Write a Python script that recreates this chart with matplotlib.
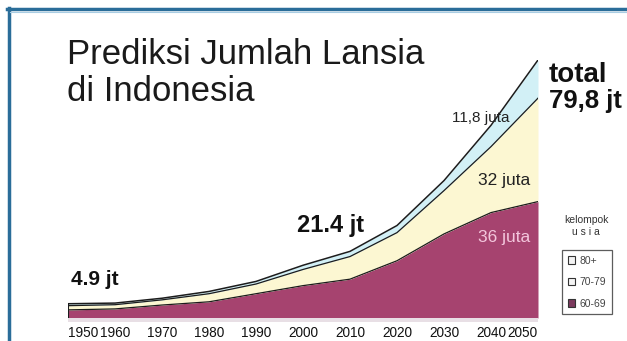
import matplotlib
matplotlib.use("Agg")
import matplotlib.pyplot as plt
import numpy as np
from matplotlib.patches import Patch
from matplotlib.lines import Line2D

years = [1950, 1960, 1970, 1980, 1990, 2000, 2010, 2020, 2030, 2040, 2050]
age_60_69 = [2.5, 2.8, 4.0, 5.0, 7.5, 10.0, 12.0, 17.7, 26.0, 32.6, 36.0]
age_70_79 = [1.3, 1.3, 1.6, 2.5, 3.0, 5.0, 7.0, 8.7, 13.4, 20.4, 32.0]
age_80p = [0.6, 0.5, 0.5, 0.7, 0.8, 1.3, 1.6, 2.2, 3.1, 6.6, 11.8]
tick_labels = [str(y) for y in years]
legend_labels = ["80+", "70-79", "60-69"]

C_PURPLE = "#a6436f"
C_YELLOW = "#fcf7d2"
C_BLUE = "#d2f0f6"
C_LINE = "#1c1c1c"
FONT = "Liberation Sans"

fig = plt.figure(figsize=(6.27, 3.41), dpi=100)
fig.patch.set_facecolor("white")
W, H = 627, 341

def fx(px):
    return px / W

def fy(py):
    return 1 - py / H

ax = fig.add_axes([fx(68), fy(322), fx(538) - fx(68), fy(60) - fy(322)])
x = np.array(years, dtype=float)
l1 = np.array(age_60_69)
l2 = l1 + np.array(age_70_79)
l3 = l2 + np.array(age_80p)

ax.fill_between(x, 0, l1, color=C_PURPLE, lw=0)
ax.fill_between(x, l1, l2, color=C_YELLOW, lw=0)
ax.fill_between(x, l2, l3, color=C_BLUE, lw=0)
ax.plot(x, l1, color=C_LINE, lw=0.9)
ax.plot(x, l2, color=C_LINE, lw=0.9)
ax.plot(x, l3, color=C_LINE, lw=1.1)
ax.vlines(x[0], 0, l3[0], color=C_LINE, lw=1.5)
ax.axhspan(-1.25, 0, color="#e8dfe5", lw=0)

ax.set_xlim(years[0], years[-1])
ax.set_ylim(-1.25, l3[-1])
ax.set_xticks(years)
ax.set_xticklabels(tick_labels, fontsize=9.8, family=FONT, color="#111111")
ax.tick_params(axis="x", length=0, pad=3)
tl = ax.get_xticklabels()
tl[0].set_ha("left")
tl[-1].set_ha("right")
ax.set_yticks([])
for s in ax.spines.values():
    s.set_visible(False)
ax.patch.set_alpha(0)

# annotations
fig.text(fx(71), fy(285), "4.9 jt", fontsize=15, fontweight="bold", family=FONT,
         color="#111111", ha="left", va="baseline")
fig.text(fx(297), fy(232), "21.4 jt", fontsize=17, fontweight="bold", family=FONT,
         color="#111111", ha="left", va="baseline")
fig.text(fx(452), fy(122), "11,8 juta", fontsize=11, family=FONT, color="#222222",
         ha="left", va="baseline")
fig.text(fx(478), fy(185), "32 juta", fontsize=12.5, family=FONT, color="#222222",
         ha="left", va="baseline")
fig.text(fx(478), fy(242), "36 juta", fontsize=12.5, family=FONT, color="#f3c6dc",
         ha="left", va="baseline")

fig.text(fx(549), fy(82), "total", fontsize=20, fontweight="bold", family=FONT,
         color="#111111", ha="left", va="baseline")
fig.text(fx(549), fy(108), "79,8 jt", fontsize=18.5, fontweight="bold", family=FONT,
         color="#111111", ha="left", va="baseline")

# title
fig.text(fx(67), fy(64), "Prediksi Jumlah Lansia", fontsize=25, family=FONT,
         color="#1a1a1a", ha="left", va="baseline")
fig.text(fx(67), fy(101), "di Indonesia", fontsize=25, family=FONT,
         color="#1a1a1a", ha="left", va="baseline")

# legend
fig.text(fx(586), fy(223), "kelompok", fontsize=7.5, family=FONT, color="#333333",
         ha="center", va="baseline")
fig.text(fx(586), fy(235), "u s i a", fontsize=7.5, family=FONT, color="#333333",
         ha="center", va="baseline")
handles = [Patch(facecolor="#f4f4f4", edgecolor="#333333", lw=0.8),
           Patch(facecolor="#f4f4f4", edgecolor="#333333", lw=0.8),
           Patch(facecolor="#7c3a5e", edgecolor="#333333", lw=0.8)]
leg = fig.legend(handles, legend_labels, loc="upper left",
                 bbox_to_anchor=(fx(562), fy(250)), frameon=True, fancybox=False,
                 prop={"family": FONT, "size": 7.5},
                 handlelength=0.7, handleheight=0.7, handletextpad=0.4,
                 labelspacing=1.1, borderpad=0.55, borderaxespad=0)
leg.get_frame().set_edgecolor("#333333")
leg.get_frame().set_linewidth(0.9)
for t in leg.get_texts():
    t.set_color("#444444")

# frame lines
fig.add_artist(Line2D([fx(7), 1], [fy(9), fy(9)], color="#2a6d99", lw=2.5))
fig.add_artist(Line2D([fx(8.5), fx(8.5)], [fy(8), 0], color="#2a6d99", lw=2.5))
fig.add_artist(Line2D([fx(10), 1], [fy(11.5), fy(11.5)], color="#a9cde3", lw=0.8))

fig.savefig("out.png", dpi=100)
